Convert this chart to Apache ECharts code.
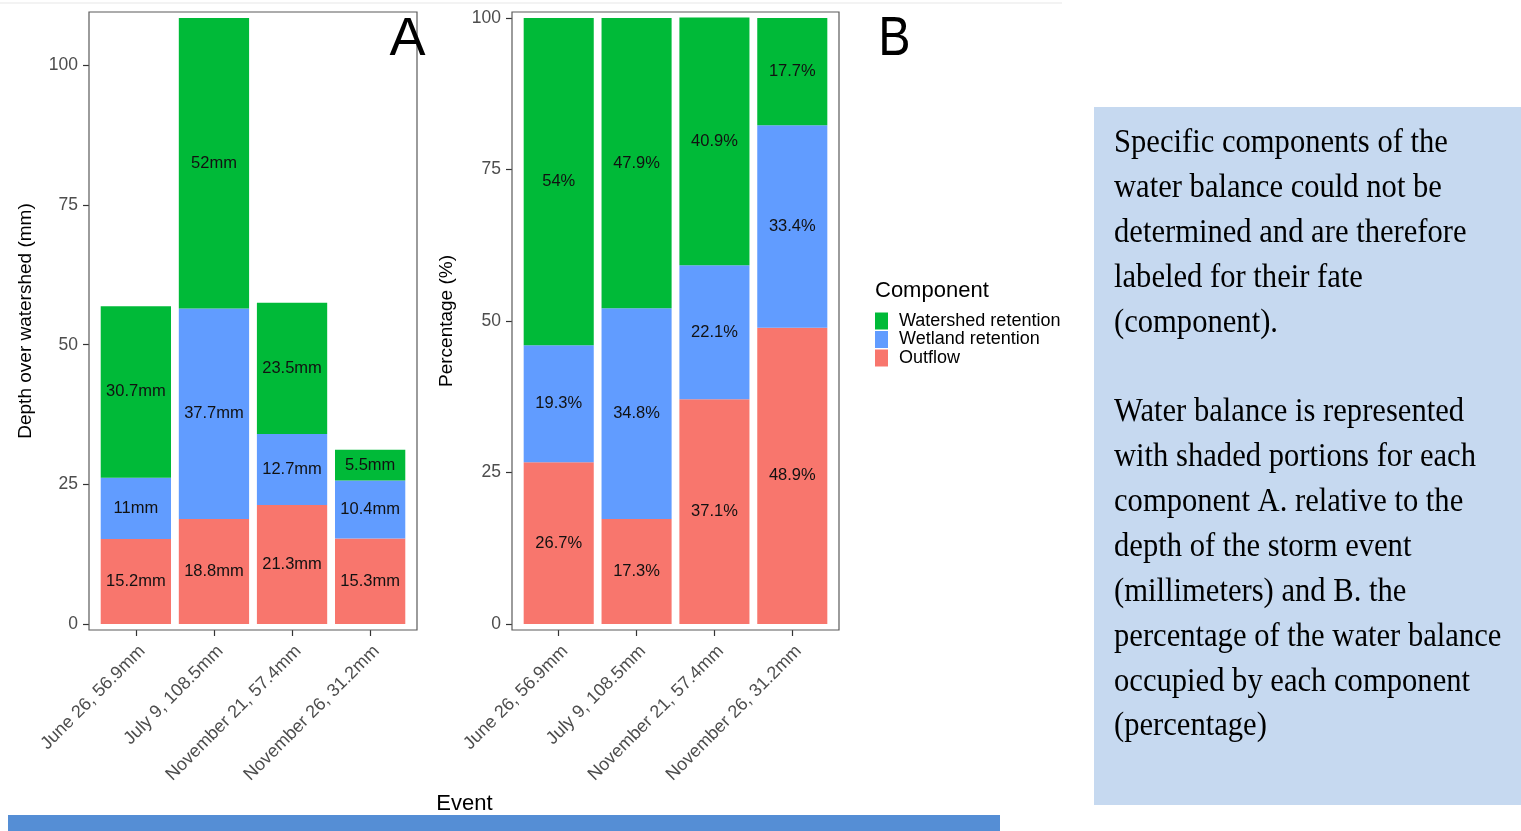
<!DOCTYPE html>
<html>
<head>
<meta charset="utf-8">
<title>Water balance by storm event</title>
<script src="https://cdn.jsdelivr.net/npm/echarts@6/dist/echarts.min.js"></script>
<style>
  html, body { margin: 0; padding: 0; background: #ffffff; }
  #chart { width: 1521px; height: 831px; }
</style>
</head>
<body>
<div id="chart"></div>
<script>
// Storm events (x categories)
const events = ['June 26, 56.9mm', 'July 9, 108.5mm', 'November 21, 57.4mm', 'November 26, 31.2mm'];

// Panel A: depth over watershed (mm) for each component
const depthOutflow = [15.2, 18.8, 21.3, 15.3];
const depthWetland = [11, 37.7, 12.7, 10.4];
const depthWatershed = [30.7, 52, 23.5, 5.5];

// Panel B: share of the water balance (%) for each component
const pctOutflow = [26.7, 17.3, 37.1, 48.9];
const pctWetland = [19.3, 34.8, 22.1, 33.4];
const pctWatershed = [54, 47.9, 40.9, 17.7];

// Tick labels
const depthTicks = [0, 25, 50, 75, 100];
const pctTicks = [0, 25, 50, 75, 100];

// Component names, in legend order
const componentNames = ['Watershed retention', 'Wetland retention', 'Outflow'];

// Side note text
const noteLines = [
  'Specific components of the',
  'water balance could not be',
  'determined and are therefore',
  'labeled for their fate',
  '(component).',
  '',
  'Water balance is represented',
  'with shaded portions for each',
  'component A. relative to the',
  'depth of the storm event',
  '(millimeters) and B. the',
  'percentage of the water balance',
  'occupied by each component',
  '(percentage)'
];

const COLORS = {
  'Watershed retention': '#00BA38',
  'Wetland retention': '#619CFF',
  'Outflow': '#F8766D'
};
const FONT = '"Liberation Sans", Arial, Helvetica, sans-serif';

// Panel geometry: the frame spans 4.2 category units (0.6 padding each side),
// the bar grid is inset by 0.1 unit so bands line up with the category slots.
function panel(frameLeft, frameWidth) {
  const unit = frameWidth / 4.2;
  return {
    frame: { left: frameLeft, top: 12, width: frameWidth, height: 618 },
    data: { left: frameLeft + unit * 0.1, top: 12, width: unit * 4, height: 618 },
    inset: unit * 0.1
  };
}
const pA = panel(89, 328);
const pB = panel(512, 327);

const grids = [
  Object.assign({ show: true, borderColor: '#5a5a5a', borderWidth: 1.2, backgroundColor: 'transparent', z: 5 }, pA.frame),
  Object.assign({ show: false }, pA.data),
  Object.assign({ show: true, borderColor: '#5a5a5a', borderWidth: 1.2, backgroundColor: 'transparent', z: 5 }, pB.frame),
  Object.assign({ show: false }, pB.data)
];

function hiddenAxis(gridIndex) {
  return { type: 'value', gridIndex: gridIndex, show: false, min: 0, max: 1 };
}

function catAxis(gridIndex) {
  return {
    type: 'category',
    gridIndex: gridIndex,
    data: events,
    position: 'bottom',
    axisLine: { show: false, onZero: false },
    axisTick: { show: true, alignWithLabel: true, length: 6, lineStyle: { color: '#333333', width: 1.2 } },
    axisLabel: {
      interval: 0, rotate: 45, align: 'right', verticalAlign: 'top', margin: 12,
      fontSize: 18, color: '#4d4d4d', fontFamily: FONT
    },
    splitLine: { show: false }
  };
}

function valAxis(gridIndex, min, max, ticks, name, inset, nameGap) {
  return {
    type: 'value',
    gridIndex: gridIndex,
    min: min,
    max: max,
    offset: inset,
    name: name,
    nameLocation: 'middle',
    nameGap: nameGap,
    nameTextStyle: { fontSize: 19, color: '#000000', fontFamily: FONT },
    axisLine: { show: false },
    splitLine: { show: false },
    axisTick: { show: true, length: 6, customValues: ticks, lineStyle: { color: '#333333', width: 1.2 } },
    axisLabel: { customValues: ticks, fontSize: 17.5, color: '#4d4d4d', margin: 11, fontFamily: FONT }
  };
}

function barSeries(name, data, xi, yi, stack, unit) {
  return {
    type: 'bar',
    name: name,
    xAxisIndex: xi,
    yAxisIndex: yi,
    stack: stack,
    data: data,
    barWidth: '90%',
    itemStyle: { color: COLORS[name] },
    label: {
      show: true,
      position: 'inside',
      formatter: '{c}' + unit,
      fontSize: 16.5,
      color: '#111111',
      fontFamily: FONT
    },
    emphasis: { disabled: true }
  };
}

const series = [
  barSeries('Outflow', depthOutflow, 1, 1, 'depth', 'mm'),
  barSeries('Wetland retention', depthWetland, 1, 1, 'depth', 'mm'),
  barSeries('Watershed retention', depthWatershed, 1, 1, 'depth', 'mm'),
  barSeries('Outflow', pctOutflow, 3, 3, 'pct', '%'),
  barSeries('Wetland retention', pctWetland, 3, 3, 'pct', '%'),
  barSeries('Watershed retention', pctWatershed, 3, 3, 'pct', '%')
];

const option = {
  animation: false,
  backgroundColor: '#ffffff',
  grid: grids,
  xAxis: [hiddenAxis(0), catAxis(1), hiddenAxis(2), catAxis(3)],
  yAxis: [
    hiddenAxis(0),
    valAxis(1, -1.085, 109.585, depthTicks, 'Depth over watershed (mm)', pA.inset, 54),
    hiddenAxis(2),
    valAxis(3, -1, 101, pctTicks, 'Percentage (%)', pB.inset, 56)
  ],
  legend: {
    orient: 'vertical',
    left: 875,
    top: 312,
    padding: 0,
    data: componentNames,
    icon: 'rect',
    itemWidth: 13,
    itemHeight: 17,
    itemGap: 0.5,
    selectedMode: false,
    textStyle: { fontSize: 18, color: '#000000', lineHeight: 17, padding: [0, 0, 0, 6], fontFamily: FONT }
  },
  series: series,
  graphic: [
    // faint rule along the top
    { type: 'rect', shape: { x: 0, y: 2, width: 1062, height: 2 }, style: { fill: '#f3f3f3' }, silent: true, z: -1 },
    // panel letters
    { type: 'text', x: 407.5, y: 40.5, style: { text: 'A', font: '54px ' + FONT, fill: '#000000', align: 'center', verticalAlign: 'middle' }, z: 10 },
    { type: 'text', x: 894.5, y: 39.5, scaleX: 0.88, style: { text: 'B', font: '55px ' + FONT, fill: '#000000', align: 'center', verticalAlign: 'middle' }, z: 10 },
    // shared x-axis title
    { type: 'text', x: 464.5, y: 803.5, style: { text: 'Event', font: '22px ' + FONT, fill: '#000000', align: 'center', verticalAlign: 'middle' } },
    // legend title
    { type: 'text', x: 875, y: 290.5, style: { text: 'Component', font: '22px ' + FONT, fill: '#000000', align: 'left', verticalAlign: 'middle' } },
    // note box
    { type: 'rect', shape: { x: 1094, y: 107, width: 427, height: 698 }, style: { fill: '#c6d9f0' }, silent: true, z: -1 },
    {
      type: 'text',
      x: 1114,
      y: 121,
      scaleX: 0.9,
      style: {
        text: noteLines.join('\n'),
        font: '34px "Liberation Serif", "Times New Roman", serif',
        lineHeight: 44.85,
        fill: '#000000',
        align: 'left',
        verticalAlign: 'top'
      }
    },
    // blue band along the bottom
    { type: 'rect', shape: { x: 8, y: 815, width: 992, height: 16 }, style: { fill: '#558ed5' }, silent: true, z: -1 }
  ]
};

const chart = echarts.init(document.getElementById('chart'), null, { renderer: 'canvas' });
chart.setOption(option);
</script>
</body>
</html>
